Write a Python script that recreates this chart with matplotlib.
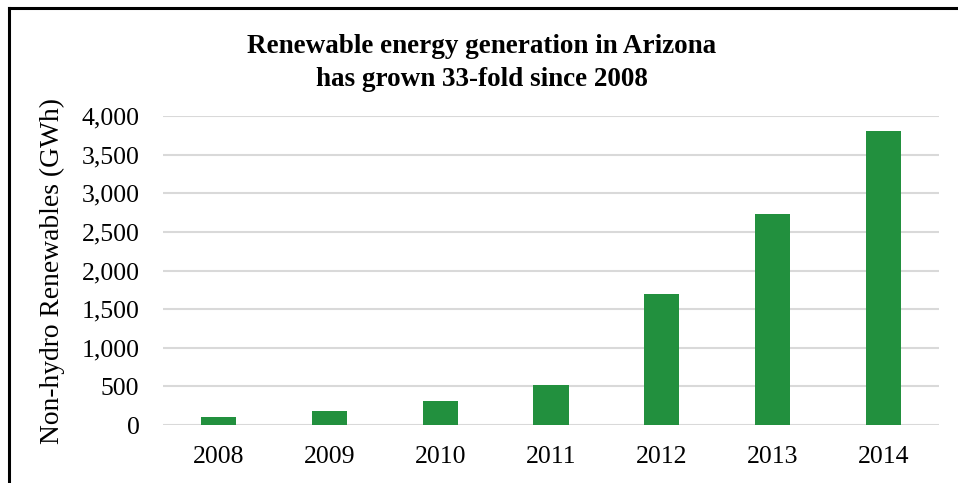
import matplotlib
matplotlib.use("Agg")
import matplotlib.pyplot as plt
from matplotlib.lines import Line2D
from matplotlib.ticker import FuncFormatter

# Data
years = ["2008", "2009", "2010", "2011", "2012", "2013", "2014"]
generation_gwh = [110, 185, 310, 520, 1695, 2730, 3805]

BAR_GREEN = "#22903e"
GRID_GREY = "#d9d9d9"

plt.rcParams['font.family'] = ['Liberation Serif', 'DejaVu Serif']

fig = plt.figure(figsize=(9.58, 4.83), dpi=100)
ax = fig.add_axes([163 / 958, 1 - 425 / 483, (939 - 163) / 958, (425 - 116) / 483])

x = range(len(years))
ax.bar(x, generation_gwh, width=0.316, color=BAR_GREEN, zorder=3)

ax.set_xlim(-0.5, len(years) - 0.5)
ax.set_ylim(0, 4000)
ax.set_yticks(range(0, 4001, 500))
ax.yaxis.set_major_formatter(FuncFormatter(lambda v, p: f"{int(v):,}"))
ax.set_xticks(list(x))
ax.set_xticklabels(years)

ax.grid(axis='y', color=GRID_GREY, linewidth=1.5, zorder=0)
ax.set_axisbelow(True)
for s in ax.spines.values():
    s.set_visible(False)
ax.tick_params(axis='both', length=0, labelsize=18.5)
ax.tick_params(axis='y', pad=17)
ax.tick_params(axis='x', pad=15)

ax.set_ylabel("Non-hydro Renewables (GWh)", fontsize=19.8)
ax.yaxis.set_label_coords(-0.126, 0.5)

fig.text(0.503, 0.929, "Renewable energy generation in Arizona\nhas grown 33-fold since 2008",
         ha='center', va='top', fontsize=19.5, fontweight='bold', linespacing=1.4)

# chart frame (top and left edges are visible in the reference)
fig.add_artist(Line2D([8.5 / 958, 1], [1 - 7.5 / 483, 1 - 7.5 / 483], color='black', linewidth=2.2,
                      transform=fig.transFigure))
fig.add_artist(Line2D([8.5 / 958, 8.5 / 958], [0, 1 - 7.5 / 483], color='black', linewidth=2.2,
                      transform=fig.transFigure))

fig.savefig("out.png", dpi=100)
